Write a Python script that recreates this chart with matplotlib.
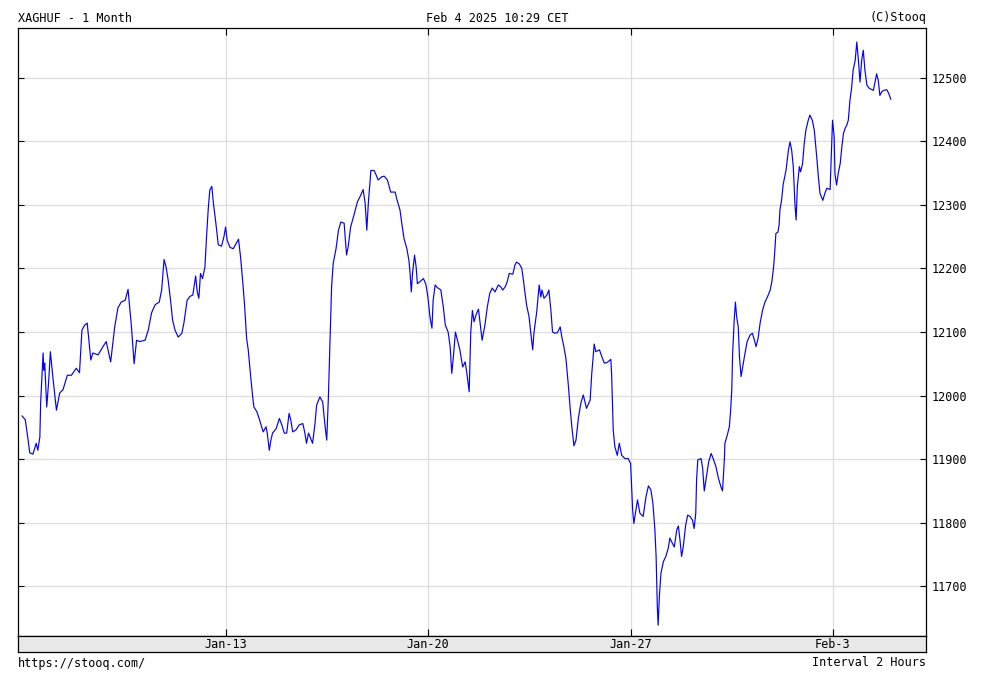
"""XAGHUF 1-month chart, Stooq style, 2-hour interval."""

import matplotlib

matplotlib.use("Agg")
import matplotlib.pyplot as plt

# x: trading days counted from Jan-13 (weekends removed), y: price in HUF
t_days = [
    -5.04, -4.96, -4.89, -4.85, -4.77, -4.69, -4.65, -4.60, -4.58, -4.52,
    -4.50, -4.48, -4.43, -4.38, -4.34, -4.28, -4.19, -4.11, -4.03, -3.92,
    -3.82, -3.70, -3.62, -3.56, -3.49, -3.43, -3.34, -3.29, -3.16, -3.04,
    -2.96, -2.85, -2.75, -2.67, -2.59, -2.49, -2.42, -2.34, -2.27, -2.21,
    -2.13, -2.00, -1.92, -1.84, -1.75, -1.65, -1.59, -1.53, -1.48, -1.43,
    -1.37, -1.32, -1.26, -1.18, -1.09, -1.04, -0.96, -0.89, -0.82, -0.75,
    -0.71, -0.67, -0.63, -0.58, -0.52, -0.48, -0.44, -0.40, -0.35, -0.31,
    -0.25, -0.19, -0.11, -0.05, -0.01, 0.03, 0.10, 0.18, 0.25, 0.31,
    0.36, 0.41, 0.46, 0.51, 0.55, 0.61, 0.66, 0.69, 0.76, 0.82,
    0.88, 0.92, 0.99, 1.02, 1.07, 1.11, 1.15, 1.24, 1.32, 1.38,
    1.44, 1.50, 1.56, 1.60, 1.65, 1.73, 1.81, 1.90, 1.95, 1.99,
    2.04, 2.09, 2.14, 2.20, 2.24, 2.32, 2.39, 2.45, 2.49, 2.53,
    2.57, 2.61, 2.65, 2.72, 2.78, 2.84, 2.92, 2.98, 3.02, 3.08,
    3.15, 3.25, 3.33, 3.39, 3.44, 3.48, 3.52, 3.56, 3.58, 3.66,
    3.71, 3.76, 3.85, 3.91, 3.99, 4.07, 4.12, 4.18, 4.23, 4.30,
    4.34, 4.40, 4.47, 4.52, 4.55, 4.58, 4.61, 4.66, 4.70, 4.73,
    4.79, 4.88, 4.94, 4.99, 5.04, 5.09, 5.12, 5.17, 5.22, 5.31,
    5.37, 5.42, 5.49, 5.54, 5.58, 5.62, 5.67, 5.72, 5.78, 5.85,
    5.91, 5.95, 6.01, 6.05, 6.09, 6.13, 6.18, 6.24, 6.28, 6.33,
    6.40, 6.46, 6.52, 6.58, 6.65, 6.73, 6.79, 6.84, 6.90, 6.95,
    7.00, 7.09, 7.14, 7.18, 7.25, 7.31, 7.35, 7.39, 7.43, 7.49,
    7.53, 7.58, 7.61, 7.68, 7.74, 7.78, 7.81, 7.86, 7.93, 7.98,
    8.03, 8.07, 8.13, 8.19, 8.26, 8.30, 8.35, 8.40, 8.46, 8.51,
    8.55, 8.60, 8.65, 8.71, 8.77, 8.83, 8.91, 9.00, 9.04, 9.10,
    9.14, 9.23, 9.29, 9.35, 9.42, 9.51, 9.53, 9.57, 9.61, 9.67,
    9.72, 9.78, 9.86, 9.94, 10.00, 10.05, 10.08, 10.13, 10.17, 10.23,
    10.31, 10.38, 10.44, 10.50, 10.55, 10.60, 10.63, 10.66, 10.68, 10.71,
    10.75, 10.81, 10.87, 10.93, 10.97, 11.03, 11.08, 11.14, 11.18, 11.22,
    11.26, 11.30, 11.36, 11.41, 11.47, 11.53, 11.57, 11.61, 11.63, 11.66,
    11.74, 11.78, 11.82, 11.88, 11.93, 11.99, 12.04, 12.11, 12.17, 12.23,
    12.27, 12.29, 12.32, 12.33, 12.39, 12.44, 12.47, 12.50, 12.52, 12.56,
    12.59, 12.62, 12.66, 12.69, 12.73, 12.77, 12.82, 12.88, 12.95, 13.01,
    13.06, 13.10, 13.15, 13.20, 13.26, 13.32, 13.38, 13.45, 13.49, 13.53,
    13.56, 13.59, 13.64, 13.67, 13.69, 13.73, 13.77, 13.84, 13.90, 13.94,
    13.98, 14.02, 14.06, 14.09, 14.12, 14.17, 14.20, 14.25, 14.29, 14.33,
    14.39, 14.43, 14.49, 14.54, 14.60, 14.64, 14.68, 14.75, 14.80, 14.85,
    14.93, 14.97, 14.99, 15.03, 15.05, 15.09, 15.13, 15.18, 15.22, 15.26,
    15.30, 15.34, 15.38, 15.42, 15.46, 15.50, 15.55, 15.59, 15.63, 15.67,
    15.71, 15.75, 15.79, 15.84, 15.90, 16.00, 16.08, 16.12, 16.16, 16.21,
    16.26, 16.33, 16.38, 16.43,
]

price = [
    11968, 11962, 11930, 11910, 11908, 11925, 11914, 11935, 11989, 12067,
    12040, 12051, 11982, 12024, 12069, 12030, 11977, 12004, 12009, 12032,
    12032, 12043, 12036, 12103, 12111, 12114, 12056, 12067, 12064, 12077,
    12085, 12053, 12108, 12138, 12147, 12150, 12167, 12111, 12050, 12087,
    12085, 12087, 12103, 12130, 12143, 12147, 12166, 12214, 12202, 12182,
    12150, 12119, 12103, 12092, 12098, 12114, 12150, 12156, 12158, 12188,
    12163, 12153, 12192, 12184, 12202, 12250, 12292, 12323, 12329, 12302,
    12271, 12237, 12235, 12250, 12265, 12244, 12233, 12231, 12239, 12246,
    12218, 12182, 12142, 12090, 12072, 12030, 11998, 11982, 11975, 11964,
    11951, 11943, 11951, 11941, 11914, 11930, 11941, 11948, 11964, 11954,
    11941, 11941, 11972, 11962, 11943, 11946, 11954, 11956, 11941, 11925,
    11941, 11933, 11925, 11956, 11985, 11998, 11990, 11951, 11930, 11996,
    12082, 12171, 12208, 12231, 12260, 12273, 12271, 12221, 12234, 12265,
    12281, 12305, 12315, 12324, 12302, 12260, 12305, 12336, 12354, 12354,
    12347, 12339, 12344, 12345, 12339, 12320, 12320, 12320, 12307, 12292,
    12273, 12247, 12231, 12213, 12192, 12163, 12192, 12221, 12202, 12176,
    12179, 12184, 12175, 12155, 12124, 12106, 12150, 12174, 12170, 12166,
    12140, 12111, 12100, 12077, 12035, 12061, 12100, 12087, 12072, 12045,
    12053, 12037, 12006, 12100, 12134, 12116, 12127, 12136, 12114, 12087,
    12111, 12140, 12161, 12169, 12163, 12174, 12171, 12166, 12171, 12179,
    12192, 12191, 12205, 12210, 12207, 12200, 12182, 12161, 12142, 12124,
    12100, 12072, 12098, 12132, 12174, 12155, 12166, 12153, 12158, 12166,
    12134, 12100, 12098, 12099, 12108, 12092, 12077, 12059, 12017, 11977,
    11949, 11921, 11930, 11965, 11988, 12001, 11980, 11993, 12035, 12081,
    12069, 12072, 12061, 12051, 12052, 12057, 12035, 11946, 11920, 11906,
    11925, 11906, 11901, 11901, 11893, 11820, 11799, 11820, 11836, 11815,
    11810, 11841, 11858, 11852, 11831, 11789, 11747, 11668, 11639, 11684,
    11721, 11739, 11747, 11760, 11776, 11768, 11762, 11789, 11795, 11773,
    11747, 11762, 11796, 11812, 11810, 11804, 11791, 11815, 11867, 11899,
    11901, 11886, 11850, 11875, 11896, 11909, 11901, 11888, 11870, 11857,
    11850, 11870, 11904, 11925, 11938, 11951, 11975, 12009, 12064, 12119,
    12147, 12124, 12108, 12061, 12030, 12045, 12064, 12085, 12095, 12098,
    12087, 12077, 12090, 12114, 12134, 12147, 12155, 12166, 12179, 12200,
    12224, 12255, 12257, 12268, 12292, 12307, 12332, 12354, 12386, 12399,
    12386, 12360, 12302, 12276, 12328, 12360, 12352, 12365, 12396, 12417,
    12433, 12441, 12433, 12417, 12375, 12344, 12318, 12307, 12318, 12326,
    12324, 12396, 12433, 12407, 12349, 12331, 12349, 12365, 12391, 12412,
    12420, 12425, 12433, 12464, 12483, 12512, 12527, 12556, 12527, 12493,
    12527, 12543, 12512, 12488, 12483, 12480, 12506, 12496, 12472, 12478,
    12480, 12481, 12475, 12466,
]

date_ticks = [0, 5, 10, 15]
date_labels = ["Jan-13", "Jan-20", "Jan-27", "Feb-3"]
price_ticks = [11700, 11800, 11900, 12000, 12100, 12200, 12300, 12400, 12500]

W, H = 993, 678


def main():
    plt.rcParams["font.family"] = ["DejaVu Sans Mono"]
    plt.rcParams["font.size"] = 8

    fig = plt.figure(figsize=(W / 100, H / 100), dpi=100)
    fig.patch.set_facecolor("white")

    # main plot box: x 18..926, y 28..636 (pixels)
    ax = fig.add_axes([18 / W, 1 - 636 / H, 908 / W, 608 / H])
    ax.plot(t_days, price, color="#0000ff", linewidth=0.85, zorder=3)
    ax.set_xlim(-5.14, 17.30)
    ax.set_ylim(11622, 12578)

    ax.set_yticks(price_ticks)
    ax.set_yticklabels([str(v) for v in price_ticks])
    ax.set_xticks(date_ticks)
    ax.set_xticklabels([])
    ax.grid(True, color="#dedede", linewidth=0.9, zorder=0)
    ax.tick_params(axis="y", which="both", direction="in", length=4, width=0.8,
                   left=True, right=True, labelleft=False, labelright=True,
                   pad=4, labelsize=8.5, colors="black")
    ax.tick_params(axis="x", direction="in", length=5, width=0.8,
                   top=True, bottom=True, labelbottom=False)
    for sp in ax.spines.values():
        sp.set_color("black")
        sp.set_linewidth(0.9)

    # date strip under the plot
    strip = fig.add_axes([18 / W, 1 - 652 / H, 908 / W, 16 / H])
    strip.set_facecolor("#e8e8e8")
    strip.set_xlim(ax.get_xlim())
    strip.set_ylim(0, 1)
    strip.set_yticks([])
    strip.set_xticks([])
    for x, lab in zip(date_ticks, date_labels):
        strip.text(x, 0.45, lab, ha="center", va="center", fontsize=8.5)
    for sp in strip.spines.values():
        sp.set_color("black")
        sp.set_linewidth(0.9)

    fig.text(18 / W, 1 - 18 / H, "XAGHUF - 1 Month", ha="left", va="center", fontsize=8.5)
    fig.text(497 / W, 1 - 18 / H, "Feb 4 2025 10:29 CET", ha="center", va="center", fontsize=8.5)
    fig.text(926 / W, 1 - 18 / H, "(C)Stooq", ha="right", va="center", fontsize=8.5)
    fig.text(18 / W, 1 - 663 / H, "https://stooq.com/", ha="left", va="center", fontsize=8.5)
    fig.text(926 / W, 1 - 663 / H, "Interval 2 Hours", ha="right", va="center", fontsize=8.5)

    fig.savefig("out.png", dpi=100)


if __name__ == "__main__":
    main()
